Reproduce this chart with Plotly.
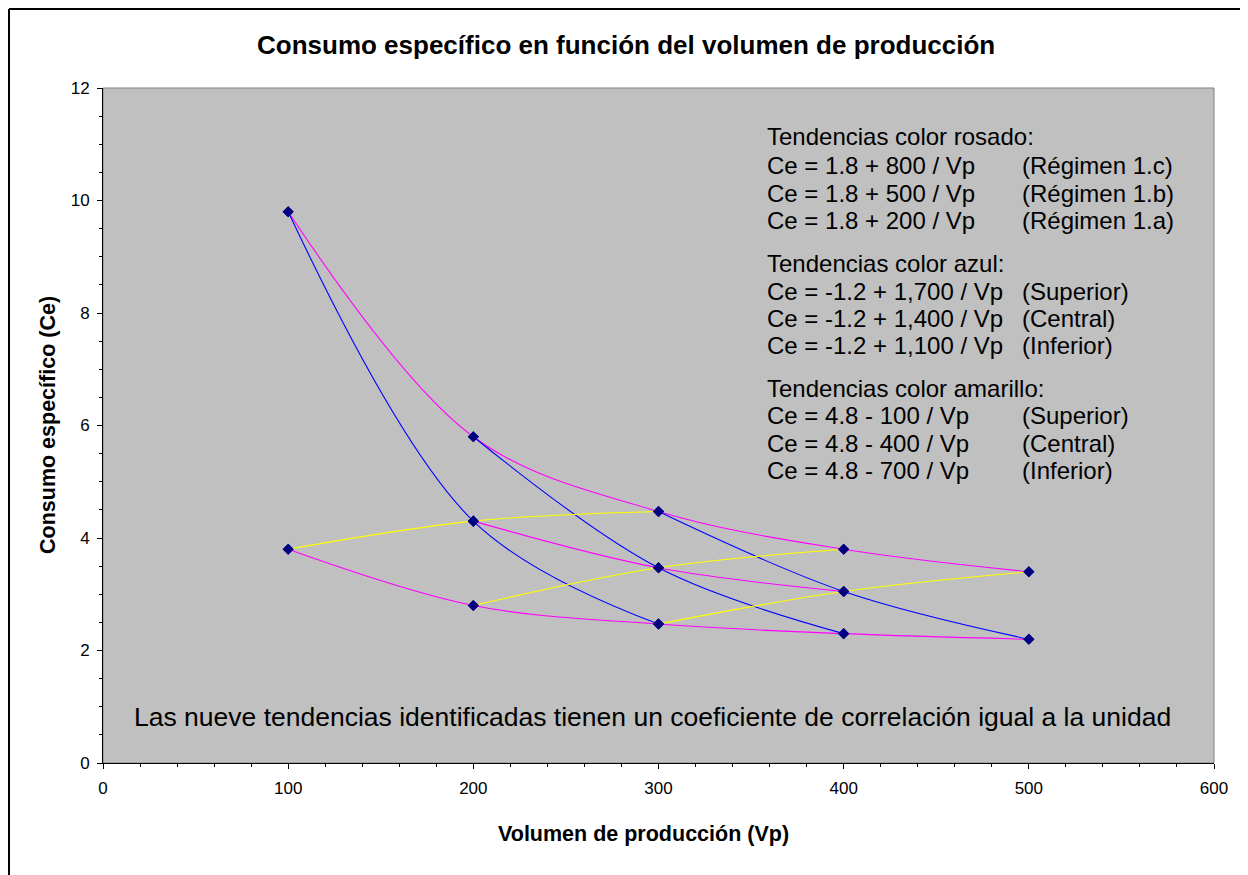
import plotly.graph_objects as go

# Datos
TITLE = "Consumo específico en función del volumen de producción"
X_TITLE = "Volumen de producción (Vp)"
Y_TITLE = "Consumo específico (Ce)"
NOTE = "Las nueve tendencias identificadas tienen un coeficiente de correlación igual a la unidad"

rosado_c_x = [100, 200, 300, 400, 500]
rosado_c_y = [9.8, 5.8, 4.47, 3.8, 3.4]
rosado_b_x = [200, 300, 400]
rosado_b_y = [4.3, 3.47, 3.05]
rosado_a_x = [100, 200, 300, 400, 500]
rosado_a_y = [3.8, 2.8, 2.47, 2.3, 2.2]

azul_sup_x = [300, 400, 500]
azul_sup_y = [4.47, 3.05, 2.2]
azul_cen_x = [200, 300, 400]
azul_cen_y = [5.8, 3.47, 2.3]
azul_inf_x = [100, 200, 300]
azul_inf_y = [9.8, 4.3, 2.47]

amarillo_sup_x = [100, 200, 300]
amarillo_sup_y = [3.8, 4.3, 4.47]
amarillo_cen_x = [200, 300, 400]
amarillo_cen_y = [2.8, 3.47, 3.8]
amarillo_inf_x = [300, 400, 500]
amarillo_inf_y = [2.47, 3.05, 3.4]

legend_rows = [
    ("Tendencias color rosado:", ""),
    ("Ce = 1.8 + 800 / Vp", "(Régimen 1.c)"),
    ("Ce = 1.8 + 500 / Vp", "(Régimen 1.b)"),
    ("Ce = 1.8 + 200 / Vp", "(Régimen 1.a)"),
    ("Tendencias color azul:", ""),
    ("Ce = -1.2 + 1,700 / Vp", "(Superior)"),
    ("Ce = -1.2 + 1,400 / Vp", "(Central)"),
    ("Ce = -1.2 + 1,100 / Vp", "(Inferior)"),
    ("Tendencias color amarillo:", ""),
    ("Ce = 4.8 - 100 / Vp", "(Superior)"),
    ("Ce = 4.8 - 400 / Vp", "(Central)"),
    ("Ce = 4.8 - 700 / Vp", "(Inferior)"),
]
legend_row_px = [137, 165, 193, 220, 263, 291, 318, 345, 388, 415, 443, 470]

FONT = "Arial, Liberation Sans, sans-serif"
PINK, BLUE, YELLOW, NAVY = "#FF00FF", "#0000FF", "#FFFF00", "#000080"

# geometría (px en la imagen); la página añade 8 px de margen al cuerpo
OFF = 8
W, H = 1248, 875
L, R, T, B = 103, 1214, 88, 763


def px(xp, yp):
    return (xp - L) / (R - L), (B - yp) / (B - T)


series = [
    (rosado_c_x, rosado_c_y, PINK), (rosado_b_x, rosado_b_y, PINK), (rosado_a_x, rosado_a_y, PINK),
    (azul_sup_x, azul_sup_y, BLUE), (azul_cen_x, azul_cen_y, BLUE), (azul_inf_x, azul_inf_y, BLUE),
    (amarillo_sup_x, amarillo_sup_y, YELLOW), (amarillo_cen_x, amarillo_cen_y, YELLOW),
    (amarillo_inf_x, amarillo_inf_y, YELLOW),
]

fig = go.Figure()
for xs, ys, col in series:
    fig.add_trace(go.Scatter(x=xs, y=ys, mode="lines", line=dict(color=col, width=1.1, shape="spline", smoothing=1),
                             showlegend=False, hoverinfo="skip"))

mx = [x for xs, ys, c in series for x in xs]
my = [y for xs, ys, c in series for y in ys]
fig.add_trace(go.Scatter(x=mx, y=my, mode="markers", showlegend=False,
                         marker=dict(symbol="diamond", size=8.5, color=NAVY, line=dict(width=0))))

axis_common = dict(showgrid=False, zeroline=False, showline=True, linecolor="#000000", linewidth=1,
                   ticks="outside", ticklen=5, tickwidth=1, tickcolor="#000000",
                   tickfont=dict(family=FONT, size=17, color="#000000"))
fig.update_xaxes(range=[0, 600], dtick=100, ticklabelstandoff=5,
                 minor=dict(dtick=20, ticks="outside", ticklen=3, tickcolor="#000000"), **axis_common)
fig.update_yaxes(range=[0, 12], dtick=2, ticklabelstandoff=4,
                 minor=dict(dtick=0.5, ticks="outside", ticklen=3, tickcolor="#000000"), **axis_common)

shapes = [
    dict(type="rect", xref="x domain", yref="y domain", x0=0, x1=1, y0=0, y1=1,
         line=dict(color="#808080", width=1), layer="below"),
]
# marco exterior del gráfico (lo más cerca posible del borde de la página)
x0, y0 = px(OFF + 1, OFF + 1)
x1, _ = px(1245, OFF + 1)
_, y1 = px(OFF + 1, 900)
shapes.append(dict(type="line", xref="paper", yref="paper", x0=x0, x1=x1, y0=y0, y1=y0,
                   line=dict(color="#000000", width=2)))
shapes.append(dict(type="line", xref="paper", yref="paper", x0=x0, x1=x0, y0=y0, y1=y1,
                   line=dict(color="#000000", width=2)))

annotations = []
tx, ty = px(626, 45)
annotations.append(dict(text="<b>" + TITLE + "</b>", x=tx, y=ty, xref="paper", yref="paper",
                        showarrow=False, xanchor="center", yanchor="middle",
                        font=dict(family=FONT, size=26, color="#000000")))
ax, ay = px(643, 834)
annotations.append(dict(text="<b>" + X_TITLE + "</b>", x=ax, y=ay, xref="paper", yref="paper",
                        showarrow=False, xanchor="center", yanchor="middle",
                        font=dict(family=FONT, size=21.5, color="#000000")))
bx, by = px(48, 425)
annotations.append(dict(text="<b>" + Y_TITLE + "</b>", x=bx, y=by, xref="paper", yref="paper",
                        showarrow=False, xanchor="center", yanchor="middle", textangle=-90,
                        font=dict(family=FONT, size=21.5, color="#000000")))
nx, ny = px(652, 717)
annotations.append(dict(text=NOTE, x=nx, y=ny, xref="paper", yref="paper", showarrow=False,
                        xanchor="center", yanchor="middle", font=dict(family=FONT, size=26.5, color="#000000")))
for (left, right), yp in zip(legend_rows, legend_row_px):
    lx, ly = px(765, yp)
    annotations.append(dict(text=left, x=lx, y=ly, xref="paper", yref="paper", showarrow=False,
                            xanchor="left", yanchor="middle", font=dict(family=FONT, size=24, color="#000000")))
    if right:
        rx, _ = px(1020, yp)
        annotations.append(dict(text=right, x=rx, y=ly, xref="paper", yref="paper", showarrow=False,
                                xanchor="left", yanchor="middle",
                                font=dict(family=FONT, size=24, color="#000000")))

fig.update_layout(width=W, height=H,
                  margin=dict(l=L - OFF, r=W - R + OFF, t=T - OFF, b=H - B + OFF, autoexpand=False),
                  paper_bgcolor="#FFFFFF", plot_bgcolor="#C0C0C0", shapes=shapes, annotations=annotations,
                  font=dict(family=FONT, color="#000000"))

fig.write_html("out.html")
